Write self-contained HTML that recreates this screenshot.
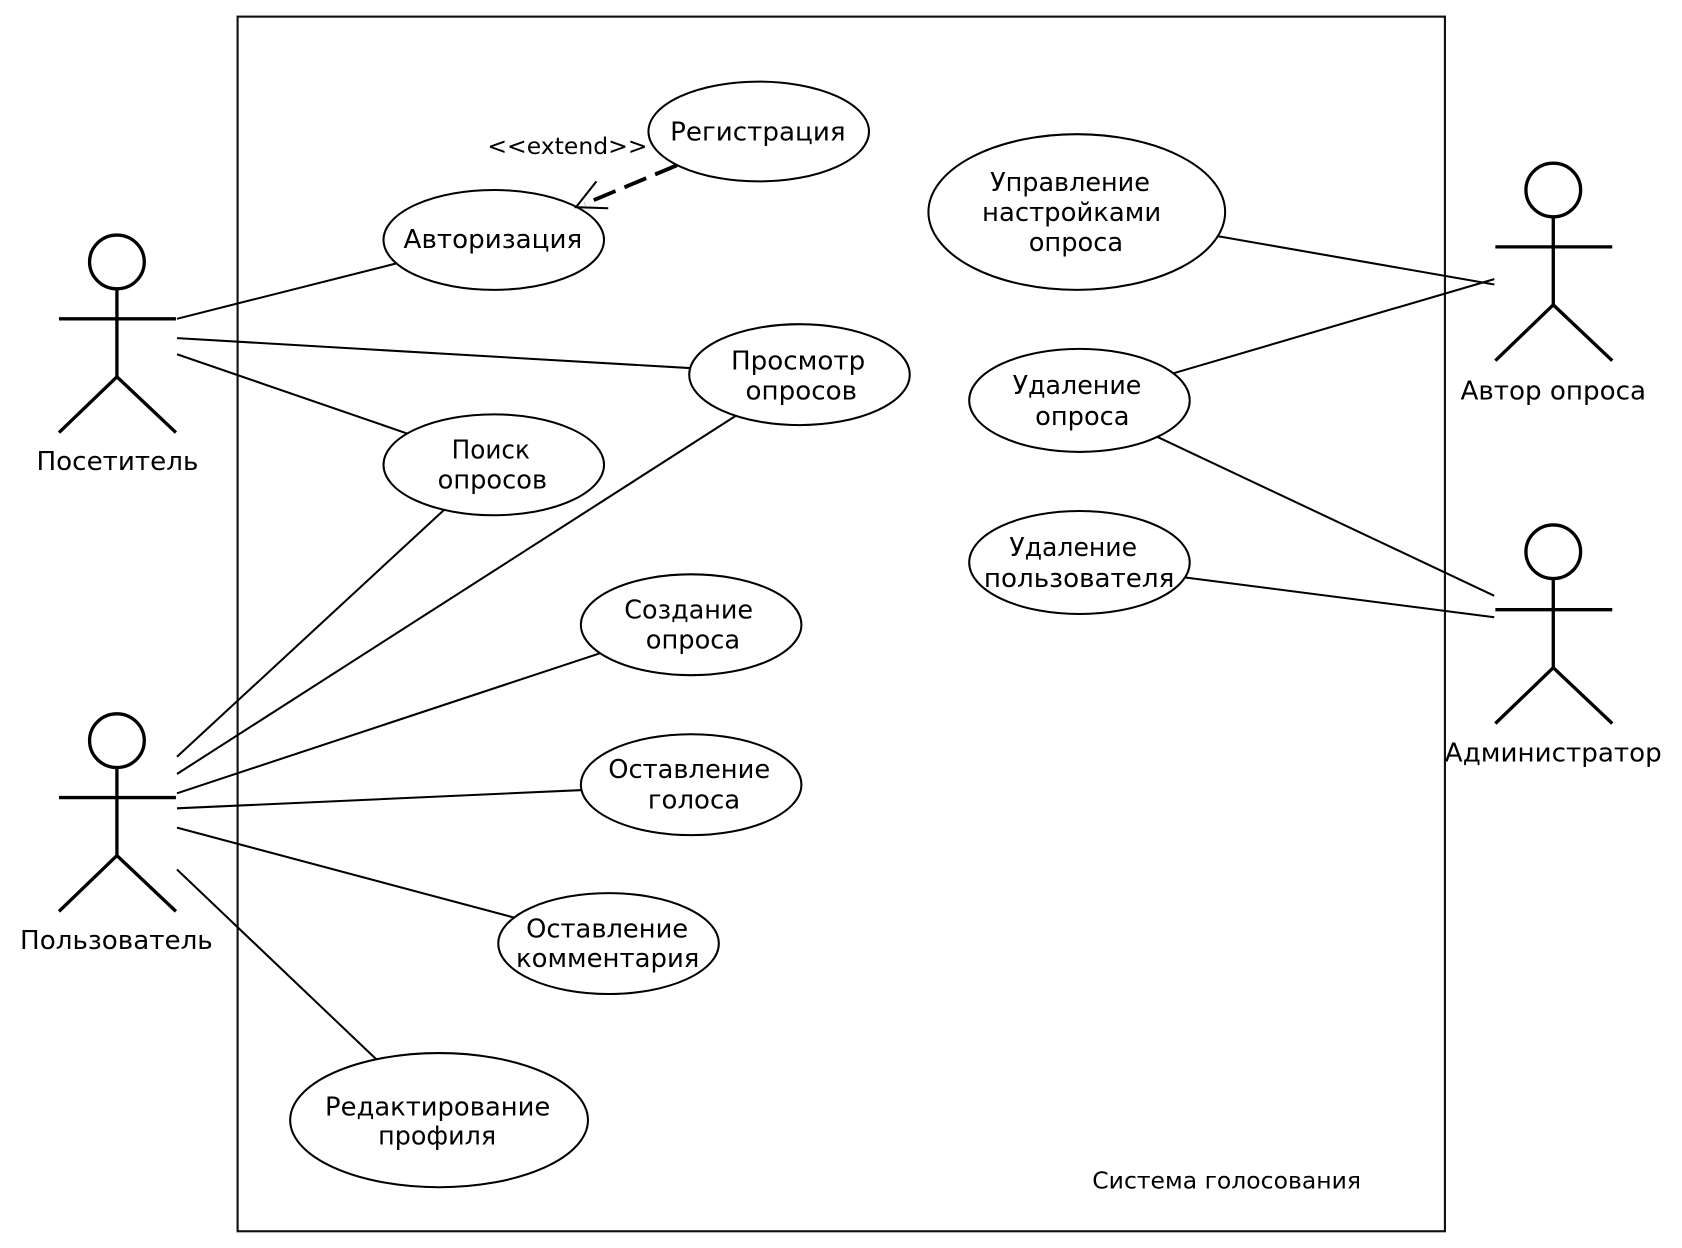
<!DOCTYPE html>
<html><head><meta charset="utf-8"><style>
html,body{margin:0;padding:0;background:#fff;width:1682px;height:1248px;overflow:hidden}
svg{display:block}
text{font-family:"DejaVu Sans",sans-serif;font-size:24.4px;fill:#000;text-anchor:middle}
.s{font-size:21.9px}
ellipse{fill:#fff;stroke:#000;stroke-width:1.9}
.l{stroke:#000;stroke-width:1.9;fill:none}
.a{stroke:#000;stroke-width:3.1;fill:none}
</style></head><body>
<svg xmlns="http://www.w3.org/2000/svg" width="1682" height="1248" viewBox="0 0 1568 1162.6" preserveAspectRatio="none">
<rect x="221.5" y="15.5" width="1125.5" height="1131.5" fill="#fff" stroke="#111" stroke-width="2"/>
<g class="l">
<path class="l" d="M165 297L371 245M165 315L645 343M165 330L380 404"/>
<path class="l" d="M165 705L415 474M165 721L688 386M165 739L561 608M165 753L543 736M165 771L480 855M165 810L351 987"/>
<path class="l" d="M1135 220L1393 265M1093 348L1393 260M1079 407L1393 555M1105 538L1393 575"/>
</g>
<ellipse cx="707.3" cy="122.5" rx="102.8" ry="46.5"/>
<ellipse cx="460.3" cy="223.5" rx="102.8" ry="46.5"/>
<ellipse cx="745.3" cy="349" rx="102.8" ry="47"/>
<ellipse cx="460.3" cy="433" rx="102.8" ry="47"/>
<ellipse cx="644.3" cy="582" rx="102.8" ry="47"/>
<ellipse cx="644.3" cy="731" rx="102.8" ry="47"/>
<ellipse cx="567.3" cy="879" rx="102.8" ry="47"/>
<ellipse cx="409.3" cy="1043.5" rx="138.8" ry="62.5"/>
<ellipse cx="1003.8" cy="197.5" rx="138.3" ry="72.5"/>
<ellipse cx="1006.3" cy="373" rx="102.8" ry="48"/>
<ellipse cx="1006.3" cy="524" rx="102.8" ry="48"/>
<path d="M631 154L545 190" stroke="#000" stroke-width="3.6" stroke-dasharray="22 9" fill="none"/>
<path class="l" d="M556 169L537 193L567 194"/>
<g class="a">
<ellipse cx="109" cy="244" rx="25.5" ry="25" style="fill:none;stroke-width:3.1"/>
<path d="M109 269V351M55 297H164M55 403L109 351L164 403"/>
<ellipse cx="109" cy="690" rx="25.5" ry="25" style="fill:none;stroke-width:3.1"/>
<path d="M109 715V797M55 743H164M55 849L109 797L164 849"/>
<ellipse cx="1448" cy="177" rx="25.5" ry="25" style="fill:none;stroke-width:3.1"/>
<path d="M1448 202V284M1394 230H1503M1394 336L1448 284L1503 336"/>
<ellipse cx="1448" cy="514" rx="25.5" ry="25" style="fill:none;stroke-width:3.1"/>
<path d="M1448 539V622M1394 568H1503M1394 674L1448 622L1503 674"/>
</g>
<text x="706.5" y="131">Регистрация</text>
<text class="s" x="529" y="143.3">&lt;&lt;extend&gt;&gt;</text>
<text x="459.5" y="231">Авторизация</text>
<text x="744" y="344">Просмотр</text>
<text x="747" y="372">опросов</text>
<text x="457.5" y="427" textLength="73" lengthAdjust="spacingAndGlyphs">Поиск</text>
<text x="459" y="455" textLength="102" lengthAdjust="spacingAndGlyphs">опросов</text>
<text x="642" y="576" textLength="120" lengthAdjust="spacingAndGlyphs">Создание</text>
<text x="646" y="604" textLength="88" lengthAdjust="spacingAndGlyphs">опроса</text>
<text x="642.5" y="725" textLength="151" lengthAdjust="spacingAndGlyphs">Оставление</text>
<text x="647" y="753" textLength="86" lengthAdjust="spacingAndGlyphs">голоса</text>
<text x="566" y="873.5" textLength="151" lengthAdjust="spacingAndGlyphs">Оставление</text>
<text x="566.5" y="901" textLength="171" lengthAdjust="spacingAndGlyphs">комментария</text>
<text x="408" y="1039" textLength="210" lengthAdjust="spacingAndGlyphs">Редактирование</text>
<text x="407.5" y="1066" textLength="110" lengthAdjust="spacingAndGlyphs">профиля</text>
<text x="997.5" y="178" textLength="149" lengthAdjust="spacingAndGlyphs">Управление</text>
<text x="999" y="206" textLength="167" lengthAdjust="spacingAndGlyphs">настройками</text>
<text x="1003" y="234" textLength="88" lengthAdjust="spacingAndGlyphs">опроса</text>
<text x="1004" y="367" textLength="120" lengthAdjust="spacingAndGlyphs">Удаление</text>
<text x="1009" y="396" textLength="88" lengthAdjust="spacingAndGlyphs">опроса</text>
<text x="1000.5" y="518" textLength="119" lengthAdjust="spacingAndGlyphs">Удаление</text>
<text x="1006" y="547">пользователя</text>
<text class="s" x="1143.5" y="1107.3">Система голосования</text>
<text x="109.5" y="438">Посетитель</text>
<text x="108.5" y="884">Пользователь</text>
<text x="1448" y="372">Автор опроса</text>
<text x="1448" y="709.4">Администратор</text>
</svg>
</body></html>
